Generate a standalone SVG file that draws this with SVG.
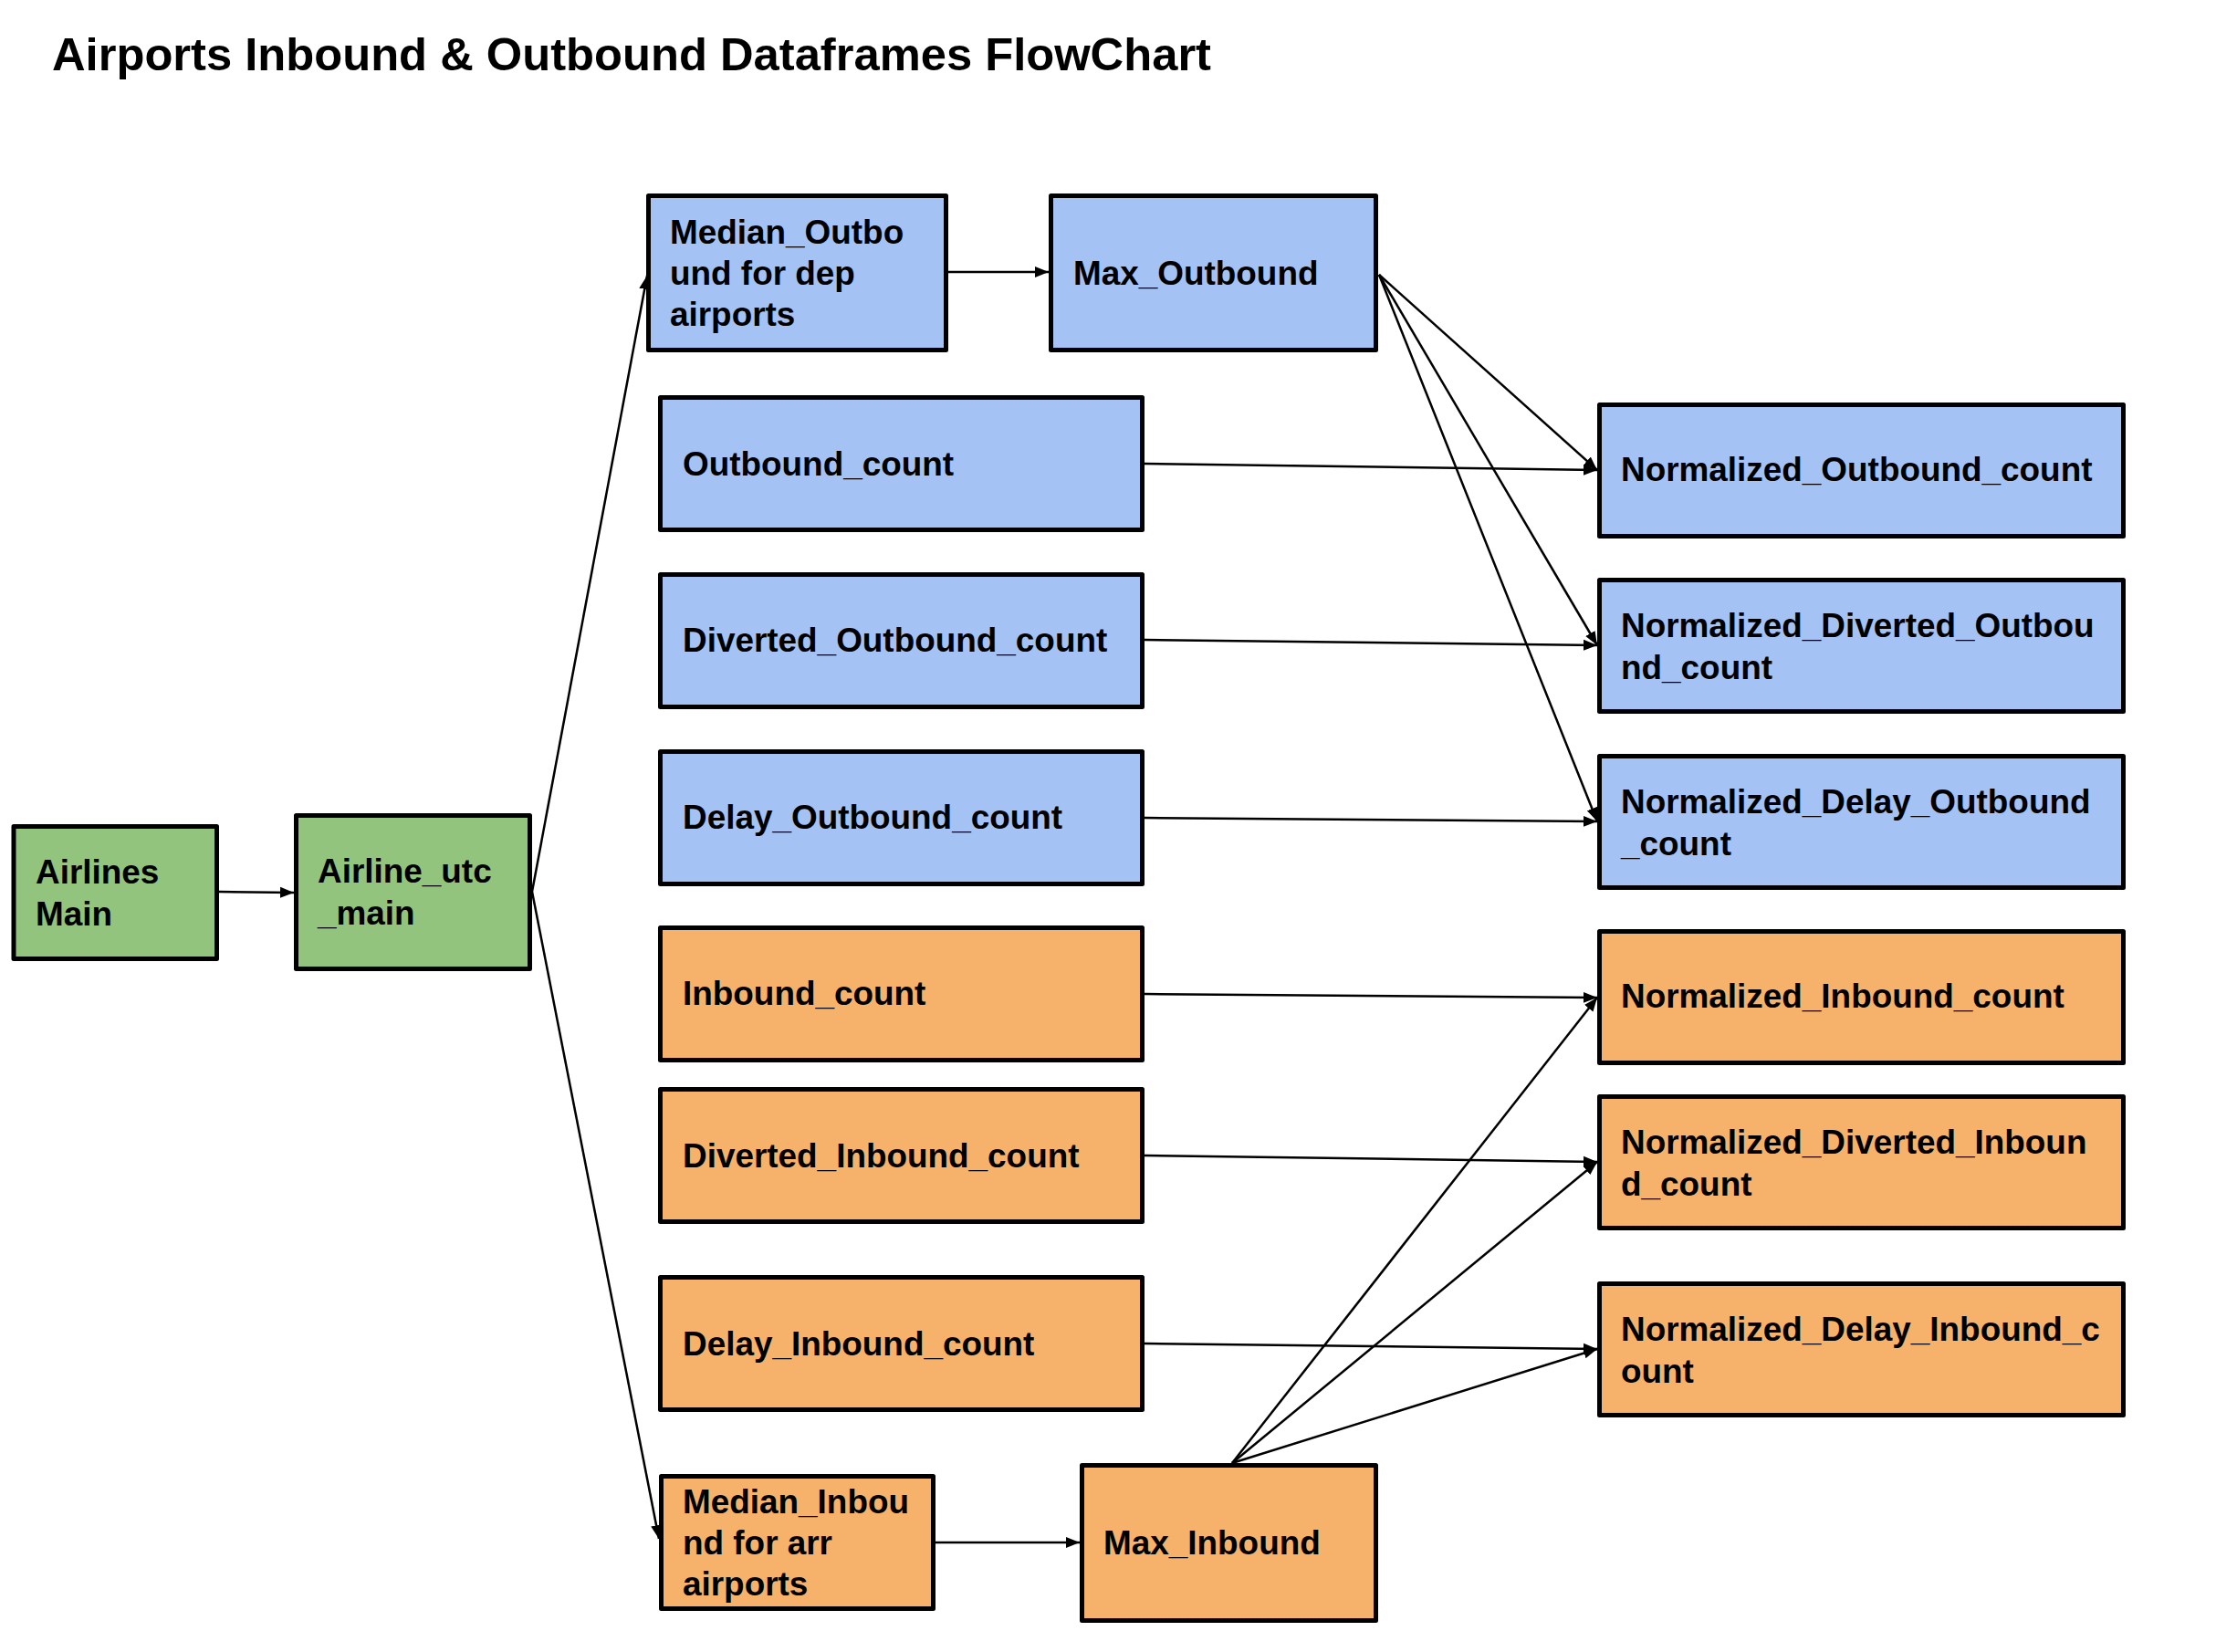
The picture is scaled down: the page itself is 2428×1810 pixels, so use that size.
<svg xmlns="http://www.w3.org/2000/svg" width="2428" height="1810" viewBox="0 0 2428 1810">
<style>
.box{stroke:#000;stroke-width:5;stroke-linejoin:round}
.blue{fill:#a4c2f4}
.orange{fill:#f6b26b}
.green{fill:#93c47d}
.lbl{font-family:"Liberation Sans",Arial,sans-serif;font-weight:bold;font-size:36.9px;fill:#000}
.title{font-family:"Liberation Sans",Arial,sans-serif;font-weight:bold;font-size:50.7px;fill:#000}
.edge{stroke:#000;stroke-width:2.5;fill:none}
</style>
<defs>
<marker id="arr" markerUnits="userSpaceOnUse" markerWidth="16" markerHeight="13" refX="15" refY="6" orient="auto" viewBox="0 0 16 12">
<path d="M0,0 L15,6 L0,12 z" fill="#000"/>
</marker>
</defs>
<rect width="2428" height="1810" fill="#fff"/>
<text class="title" x="57" y="77">Airports Inbound &amp; Outbound Dataframes FlowChart</text>

<g id="connectors">
<line class="edge" x1="240" y1="977" x2="322" y2="978" marker-end="url(#arr)"/>
<line class="edge" x1="583" y1="977" x2="709" y2="302" marker-end="url(#arr)"/>
<line class="edge" x1="583" y1="977" x2="722" y2="1686" marker-end="url(#arr)"/>
<line class="edge" x1="1039" y1="298" x2="1149" y2="298" marker-end="url(#arr)"/>
<line class="edge" x1="1511" y1="301" x2="1750" y2="515" marker-end="url(#arr)"/>
<line class="edge" x1="1511" y1="301" x2="1750" y2="707" marker-end="url(#arr)"/>
<line class="edge" x1="1511" y1="301" x2="1750" y2="900" marker-end="url(#arr)"/>
<line class="edge" x1="1254" y1="508" x2="1750" y2="515" marker-end="url(#arr)"/>
<line class="edge" x1="1254" y1="701" x2="1750" y2="707" marker-end="url(#arr)"/>
<line class="edge" x1="1254" y1="896" x2="1750" y2="900" marker-end="url(#arr)"/>
<line class="edge" x1="1254" y1="1089" x2="1750" y2="1093" marker-end="url(#arr)"/>
<line class="edge" x1="1254" y1="1266" x2="1750" y2="1273" marker-end="url(#arr)"/>
<line class="edge" x1="1254" y1="1472" x2="1750" y2="1478" marker-end="url(#arr)"/>
<line class="edge" x1="1350" y1="1603" x2="1750" y2="1093" marker-end="url(#arr)"/>
<line class="edge" x1="1350" y1="1603" x2="1750" y2="1273" marker-end="url(#arr)"/>
<line class="edge" x1="1350" y1="1603" x2="1750" y2="1478" marker-end="url(#arr)"/>
<line class="edge" x1="1025" y1="1690" x2="1183" y2="1690" marker-end="url(#arr)"/>
</g>

<g id="airlines_main">
<rect class="box green" x="15" y="905.5" width="222.5" height="145"/>
<text class="lbl" x="39" y="968">Airlines</text>
<text class="lbl" x="39" y="1014">Main</text>
</g>
<g id="airline_utc_main">
<rect class="box green" x="324.5" y="893.5" width="256" height="168"/>
<text class="lbl" x="348" y="967">Airline_utc</text>
<text class="lbl" x="348" y="1013">_main</text>
</g>
<g id="median_outbound">
<rect class="box blue" x="710.5" y="214.5" width="326" height="169"/>
<text class="lbl" x="734" y="267">Median_Outbo</text>
<text class="lbl" x="734" y="312">und for dep</text>
<text class="lbl" x="734" y="357">airports</text>
</g>
<g id="max_outbound">
<rect class="box blue" x="1151.5" y="214.5" width="356" height="169"/>
<text class="lbl" x="1176" y="312">Max_Outbound</text>
</g>
<g id="outbound_count">
<rect class="box blue" x="723.5" y="435.5" width="528" height="145"/>
<text class="lbl" x="748" y="521">Outbound_count</text>
</g>
<g id="diverted_outbound_count">
<rect class="box blue" x="723.5" y="629.5" width="528" height="145"/>
<text class="lbl" x="748" y="714">Diverted_Outbound_count</text>
</g>
<g id="delay_outbound_count">
<rect class="box blue" x="723.5" y="823.5" width="528" height="145"/>
<text class="lbl" x="748" y="908">Delay_Outbound_count</text>
</g>
<g id="inbound_count">
<rect class="box orange" x="723.5" y="1016.5" width="528" height="145"/>
<text class="lbl" x="748" y="1101">Inbound_count</text>
</g>
<g id="diverted_inbound_count">
<rect class="box orange" x="723.5" y="1193.5" width="528" height="145"/>
<text class="lbl" x="748" y="1279">Diverted_Inbound_count</text>
</g>
<g id="delay_inbound_count">
<rect class="box orange" x="723.5" y="1399.5" width="528" height="145"/>
<text class="lbl" x="748" y="1485">Delay_Inbound_count</text>
</g>
<g id="median_inbound">
<rect class="box orange" x="724.5" y="1617.5" width="298" height="145"/>
<text class="lbl" x="748" y="1658">Median_Inbou</text>
<text class="lbl" x="748" y="1703">nd for arr</text>
<text class="lbl" x="748" y="1748">airports</text>
</g>
<g id="max_inbound">
<rect class="box orange" x="1185.5" y="1605.5" width="322" height="170"/>
<text class="lbl" x="1209" y="1703">Max_Inbound</text>
</g>
<g id="norm_outbound_count">
<rect class="box blue" x="1752.5" y="443.5" width="574" height="144"/>
<text class="lbl" x="1776" y="527">Normalized_Outbound_count</text>
</g>
<g id="norm_diverted_outbound_count">
<rect class="box blue" x="1752.5" y="635.5" width="574" height="144"/>
<text class="lbl" x="1776" y="698">Normalized_Diverted_Outbou</text>
<text class="lbl" x="1776" y="744">nd_count</text>
</g>
<g id="norm_delay_outbound_count">
<rect class="box blue" x="1752.5" y="828.5" width="574" height="144"/>
<text class="lbl" x="1776" y="891">Normalized_Delay_Outbound</text>
<text class="lbl" x="1776" y="937">_count</text>
</g>
<g id="norm_inbound_count">
<rect class="box orange" x="1752.5" y="1020.5" width="574" height="144"/>
<text class="lbl" x="1776" y="1104">Normalized_Inbound_count</text>
</g>
<g id="norm_diverted_inbound_count">
<rect class="box orange" x="1752.5" y="1201.5" width="574" height="144"/>
<text class="lbl" x="1776" y="1264">Normalized_Diverted_Inboun</text>
<text class="lbl" x="1776" y="1310">d_count</text>
</g>
<g id="norm_delay_inbound_count">
<rect class="box orange" x="1752.5" y="1406.5" width="574" height="144"/>
<text class="lbl" x="1776" y="1469">Normalized_Delay_Inbound_c</text>
<text class="lbl" x="1776" y="1515">ount</text>
</g>
</svg>
